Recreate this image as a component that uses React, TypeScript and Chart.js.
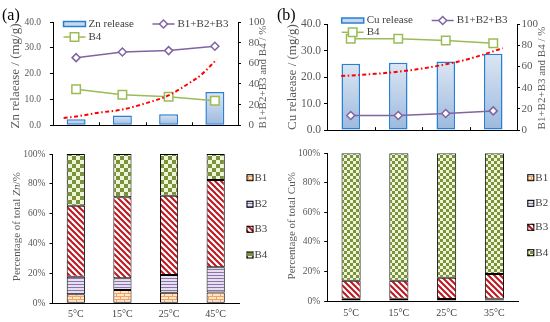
import React, { useEffect, useRef } from 'react';
import { Chart, registerables } from 'chart.js';

Chart.register(...registerables);

const SERIF = "'Liberation Serif', 'Times New Roman', serif";
Chart.defaults.font.family = SERIF;

// ---------- data ----------
const znCategories = ['5°C', '15°C', '25°C', '45°C'];
const cuCategories = ['5°C', '15°C', '25°C', '35°C'];

const znRelease = [2.3, 3.8, 4.3, 12.9];
const znB123 = [65.5, 71.0, 72.3, 76.5];
const znB4 = [35.0, 29.5, 27.7, 23.7];
const znTrendX = [-0.27, 0, 0.5, 1, 1.5, 2, 2.4, 2.7, 3.04];
const znTrendY = [2.8, 3.4, 4.9, 6.1, 8.5, 11.6, 15.8, 19.5, 25.5];

const cuRelease = [25.0, 25.4, 25.9, 28.8];
const cuB123 = [13.8, 13.8, 15.6, 18.1];
const cuB4 = [86.2, 86.2, 84.4, 81.9];
const cuTrendX = [-0.2, 0, 0.5, 1, 1.5, 2, 2.5, 3, 3.2];
const cuTrendY = [20.4, 20.6, 21.2, 22.0, 23.2, 24.8, 26.9, 29.7, 30.9];

const znFracB1 = [6.0, 8.9, 7.1, 7.3];
const znFracB2 = [11.8, 7.8, 11.9, 16.8];
const znFracB3 = [47.6, 54.3, 53.1, 58.5];
const znFracB4 = [34.6, 29.0, 27.9, 17.4];

const cuFracB1 = [0.3, 0.3, 0.3, 1.2];
const cuFracB2 = [1.2, 1.2, 1.0, 0.4];
const cuFracB3 = [12.2, 12.2, 14.5, 16.7];
const cuFracB4 = [86.3, 86.3, 84.2, 81.7];

const fracLabels = ['B1', 'B2', 'B3', 'B4'];
const leftTicksTop = { min: 0, max: 40, step: 10 };
const rightTicksTop = { min: 0, max: 100, step: 20 };

// ---------- styles ----------
const PURPLE = '#8064A2';
const GREEN = '#9BBB59';
const BLUE = '#2A7FD4';
const RED = '#FF0000';
const TICK = '#595959';
const TEXT = '#404040';

function makePattern(kind: string, cell = 4): CanvasPattern | string {
  const c = document.createElement('canvas');
  const g = c.getContext('2d');
  if (!g) return '#ccc';
  if (kind === 'brick') {
    c.width = 8; c.height = 6;
    g.fillStyle = '#FDE6CF'; g.fillRect(0, 0, 8, 6);
    g.fillStyle = '#F3A35E';
    g.fillRect(0, 0, 8, 1); g.fillRect(0, 3, 8, 1);
    g.fillRect(0, 0, 1, 3); g.fillRect(4, 3, 1, 3);
  } else if (kind === 'hline') {
    c.width = 4; c.height = 3;
    g.fillStyle = '#E6E0EE'; g.fillRect(0, 0, 4, 3);
    g.fillStyle = '#8A73AE'; g.fillRect(0, 0, 4, 1);
  } else if (kind === 'diag') {
    c.width = 6; c.height = 6;
    g.fillStyle = '#FFFFFF'; g.fillRect(0, 0, 6, 6);
    g.strokeStyle = '#C0141C'; g.lineWidth = 2;
    for (const k of [-6, 0, 6]) {
      g.beginPath(); g.moveTo(k - 1, -1); g.lineTo(k + 7, 7); g.stroke();
    }
  } else {
    c.width = cell * 2; c.height = cell * 2;
    g.fillStyle = '#F1F4D6'; g.fillRect(0, 0, cell * 2, cell * 2);
    g.fillStyle = '#77933C';
    g.fillRect(0, 0, cell, cell); g.fillRect(cell, cell, cell, cell);
  }
  return g.createPattern(c, 'repeat') || '#ccc';
}

function drawMarker(ctx: CanvasRenderingContext2D, style: string, x: number, y: number, r: number, color: string) {
  ctx.beginPath();
  if (style === 'rectRot') {
    ctx.moveTo(x, y - r); ctx.lineTo(x + r, y); ctx.lineTo(x, y + r); ctx.lineTo(x - r, y); ctx.closePath();
  } else {
    const s = r * Math.SQRT1_2;
    ctx.rect(x - s, y - s, 2 * s, 2 * s);
  }
  ctx.fillStyle = '#fff'; ctx.fill();
  ctx.strokeStyle = color; ctx.lineWidth = 1.5; ctx.stroke();
}

function drawRotated(ctx: CanvasRenderingContext2D, parts: { t: string; i?: boolean }[], cx: number, cy: number, size: number, color: string) {
  ctx.save();
  ctx.translate(cx, cy);
  ctx.rotate(-Math.PI / 2);
  ctx.fillStyle = color;
  ctx.textBaseline = 'middle';
  ctx.textAlign = 'left';
  const widths = parts.map((p) => { ctx.font = `${p.i ? 'italic ' : ''}${size}px ${SERIF}`; return ctx.measureText(p.t).width; });
  let x = -widths.reduce((a, b) => a + b, 0) / 2;
  parts.forEach((p, k) => {
    ctx.font = `${p.i ? 'italic ' : ''}${size}px ${SERIF}`;
    ctx.fillText(p.t, x, 0);
    x += widths[k];
  });
  ctx.restore();
}

const barGradient = (c: any) => {
  const chart = c.chart;
  if (!chart.chartArea || c.raw == null) return '#C6D8EE';
  const ys = chart.scales.y;
  const top = ys.getPixelForValue(c.raw);
  const bottom = ys.getPixelForValue(0);
  const g = chart.ctx.createLinearGradient(0, top, 0, bottom);
  g.addColorStop(0, '#DCE6F3');
  g.addColorStop(1, '#9BB9DE');
  return g;
};

interface TopGeo {
  padTop: number; yW: number; y1W: number; xH: number;
  leftFont: number; rightFont: number; leftPad: number; rightPad: number;
  leftTitleX: number; leftTitleY: number; rightTitleX: number; rightTitleY: number;
  row1Y: number; row2Y: number; col1X: number; col2X: number; barPct: number;
}

function buildTop(p: {
  cats: string[]; release: number[]; b123: number[]; b4: number[]; tx: number[]; ty: number[];
  releaseLabel: string; panel: string; leftTitle: string; geo: TopGeo;
}) {
  const g = p.geo;
  const decor = {
    id: 'decorTop',
    afterDraw(chart: any) {
      const ctx: CanvasRenderingContext2D = chart.ctx;
      const area = chart.chartArea;
      const xs = chart.scales.x;
      ctx.save();
      ctx.strokeStyle = '#000'; ctx.lineWidth = 1;
      for (let i = 1; i < p.cats.length; i++) {
        const px = Math.round((xs.getPixelForValue(i - 1) + xs.getPixelForValue(i)) / 2) + 0.5;
        ctx.beginPath(); ctx.moveTo(px, area.bottom); ctx.lineTo(px, area.bottom - 3); ctx.stroke();
      }
      ctx.fillStyle = '#000'; ctx.font = `16px ${SERIF}`; ctx.textBaseline = 'middle'; ctx.textAlign = 'left';
      ctx.fillText(p.panel, 2, 15.5);
      drawRotated(ctx, [{ t: p.leftTitle }], g.leftTitleX, g.leftTitleY, 13, TICK);
      drawRotated(ctx, [{ t: 'B1+B2+B3 and B4 / %' }], g.rightTitleX, g.rightTitleY, 11, TICK);
      // legend
      ctx.font = `11px ${SERIF}`; ctx.fillStyle = TEXT; ctx.textBaseline = 'middle';
      const iconW = 22;
      ctx.fillStyle = '#C6D8EE';
      ctx.fillRect(g.col1X, g.row1Y - 2.5, iconW, 5);
      ctx.strokeStyle = BLUE; ctx.lineWidth = 1.5;
      ctx.strokeRect(g.col1X, g.row1Y - 2.5, iconW, 5);
      ctx.fillStyle = TEXT;
      ctx.fillText(p.releaseLabel, g.col1X + iconW + 3, g.row1Y);
      ctx.strokeStyle = PURPLE; ctx.lineWidth = 1.5;
      ctx.beginPath(); ctx.moveTo(g.col2X, g.row1Y); ctx.lineTo(g.col2X + iconW, g.row1Y); ctx.stroke();
      drawMarker(ctx, 'rectRot', g.col2X + iconW / 2, g.row1Y, 4, PURPLE);
      ctx.fillStyle = TEXT;
      ctx.fillText('B1+B2+B3', g.col2X + iconW + 3, g.row1Y);
      ctx.strokeStyle = GREEN; ctx.lineWidth = 1.5;
      ctx.beginPath(); ctx.moveTo(g.col1X, g.row2Y); ctx.lineTo(g.col1X + iconW, g.row2Y); ctx.stroke();
      drawMarker(ctx, 'rect', g.col1X + iconW / 2, g.row2Y, 6, GREEN);
      ctx.fillStyle = TEXT;
      ctx.fillText('B4', g.col1X + iconW + 3, g.row2Y);
      ctx.restore();
    },
  };
  const yGrid = { display: true, drawOnChartArea: false, drawTicks: true, tickLength: 3, color: '#000' };
  return {
    type: 'bar',
    data: {
      labels: p.cats,
      datasets: [
        { type: 'line', label: 'B1+B2+B3', data: p.b123, xAxisID: 'x', yAxisID: 'y1', borderColor: PURPLE, borderWidth: 1.5,
          pointStyle: 'rectRot', pointRadius: 4, pointBackgroundColor: '#fff', pointBorderColor: PURPLE, pointBorderWidth: 1.5, order: 1 },
        { type: 'line', label: 'B4', data: p.b4, xAxisID: 'x', yAxisID: 'y1', borderColor: GREEN, borderWidth: 1.5,
          pointStyle: 'rect', pointRadius: 6, pointBackgroundColor: '#fff', pointBorderColor: GREEN, pointBorderWidth: 1.5, order: 1 },
        { type: 'line', label: 'trend', data: p.tx.map((x, i) => ({ x, y: p.ty[i] })), xAxisID: 'x2', yAxisID: 'y',
          borderColor: RED, borderWidth: 2, borderDash: [4, 2.5, 1.5, 2.5], pointRadius: 0, tension: 0.4,
          cubicInterpolationMode: 'monotone', order: 0, clip: false },
        { type: 'bar', label: p.releaseLabel, data: p.release, xAxisID: 'x', yAxisID: 'y', backgroundColor: barGradient,
          borderColor: BLUE, borderWidth: 1.5, borderSkipped: false, grouped: false,
          barPercentage: g.barPct, categoryPercentage: 1, order: 5 },
      ],
    },
    options: {
      animation: false, responsive: false, events: [],
      layout: { padding: { top: g.padTop, left: 0, right: 0, bottom: 0 } },
      plugins: { legend: { display: false }, tooltip: { enabled: false } },
      scales: {
        x: { type: 'category', offset: true, grid: { display: false, drawTicks: false }, border: { display: true, color: '#000', width: 1 },
          ticks: { display: false }, afterFit: (s: any) => { s.height = g.xH; } },
        x2: { type: 'linear', position: 'bottom', offset: false, min: -0.5, max: 3.5, bounds: 'ticks',
          grid: { display: false, drawTicks: false, offset: false }, border: { display: false },
          ticks: { display: false }, afterFit: (s: any) => { s.height = 0; } },
        y: { type: 'linear', position: 'left', min: leftTicksTop.min, max: leftTicksTop.max,
          ticks: { stepSize: leftTicksTop.step, callback: (v: any) => Number(v).toFixed(1), font: { size: g.leftFont }, color: TICK, padding: g.leftPad },
          grid: yGrid, border: { color: '#000', width: 1 }, afterFit: (s: any) => { s.width = g.yW; } },
        y1: { type: 'linear', position: 'right', min: rightTicksTop.min, max: rightTicksTop.max,
          ticks: { stepSize: rightTicksTop.step, font: { size: g.rightFont }, color: TICK, padding: g.rightPad },
          grid: yGrid, border: { color: '#000', width: 1 }, afterFit: (s: any) => { s.width = g.y1W; } },
      },
    },
    plugins: [decor],
  };
}

interface BotGeo {
  padTop: number; padRight: number; yW: number; xH: number; xPad: number; barPct: number; cell: number;
  titleX: number; titleY: number; legX: number; legY: number[];
}

function buildBottom(p: { cats: string[]; series: number[][]; title: { t: string; i?: boolean }[]; geo: BotGeo }) {
  const g = p.geo;
  const fills = [makePattern('brick'), makePattern('hline'), makePattern('diag'), makePattern('check', g.cell)];
  const decor = {
    id: 'decorBottom',
    afterDraw(chart: any) {
      const ctx: CanvasRenderingContext2D = chart.ctx;
      ctx.save();
      drawRotated(ctx, p.title, g.titleX, g.titleY, 11, TICK);
      ctx.font = `11px ${SERIF}`; ctx.textBaseline = 'middle'; ctx.textAlign = 'left';
      fracLabels.forEach((lab, i) => {
        const y = g.legY[i];
        ctx.fillStyle = fills[i] as any;
        ctx.fillRect(g.legX, y - 3.5, 7, 7);
        ctx.strokeStyle = '#000'; ctx.lineWidth = 1;
        ctx.strokeRect(g.legX + 0.5, y - 3, 6, 6);
        ctx.fillStyle = TEXT;
        ctx.fillText(lab, g.legX + 8, y);
      });
      ctx.restore();
    },
  };
  return {
    type: 'bar',
    data: {
      labels: p.cats,
      datasets: p.series.map((d, i) => ({
        label: fracLabels[i], data: d, backgroundColor: fills[i], borderColor: '#000', borderWidth: 1,
        borderSkipped: false, barPercentage: g.barPct, categoryPercentage: 1,
      })),
    },
    options: {
      animation: false, responsive: false, events: [],
      layout: { padding: { top: g.padTop, right: g.padRight, left: 0, bottom: 0 } },
      plugins: { legend: { display: false }, tooltip: { enabled: false } },
      scales: {
        x: { stacked: true, offset: true, grid: { display: false, drawTicks: false }, border: { display: true, color: '#000', width: 1 },
          ticks: { font: { size: 10 }, color: TEXT, padding: g.xPad, maxRotation: 0 }, afterFit: (s: any) => { s.height = g.xH; } },
        y: { stacked: true, min: 0, max: 100,
          ticks: { stepSize: 20, callback: (v: any) => `${v}%`, font: { size: 9.5 }, color: TICK, padding: 4 },
          grid: { display: true, drawOnChartArea: false, drawTicks: true, tickLength: 3, color: '#000' },
          border: { color: '#000', width: 1 }, afterFit: (s: any) => { s.width = g.yW; } },
      },
    },
    plugins: [decor],
  };
}

function ChartBox({ make, left, top, width, height }: { make: () => any; left: number; top: number; width: number; height: number }) {
  const ref = useRef<HTMLCanvasElement | null>(null);
  useEffect(() => {
    if (!ref.current) return;
    const chart = new Chart(ref.current, make());
    return () => chart.destroy();
  }, []);
  return <canvas ref={ref} width={width} height={height} style={{ position: 'absolute', left, top, width, height }} />;
}

export default function App() {
  const makeTopA = () => buildTop({
    cats: znCategories, release: znRelease, b123: znB123, b4: znB4, tx: znTrendX, ty: znTrendY,
    releaseLabel: 'Zn release', panel: '(a)', leftTitle: 'Zn relaease / (mg/g)',
    geo: { padTop: 22, yW: 53, y1W: 37, xH: 8, leftFont: 9.5, rightFont: 11, leftPad: 9, rightPad: 7.5,
      leftTitleX: 16, leftTitleY: 76, rightTitleX: 263, rightTitleY: 77, row1Y: 24, row2Y: 37, col1X: 63.5, col2X: 152.5, barPct: 0.41 },
  });
  const makeTopB = () => buildTop({
    cats: cuCategories, release: cuRelease, b123: cuB123, b4: cuB4, tx: cuTrendX, ty: cuTrendY,
    releaseLabel: 'Cu release', panel: '(b)', leftTitle: 'Cu relaease / (mg/g)',
    geo: { padTop: 24, yW: 52, y1W: 33, xH: 7, leftFont: 11.5, rightFont: 11, leftPad: 3, rightPad: 1.5,
      leftTitleX: 18, leftTitleY: 77, rightTitleX: 267, rightTitleY: 78, row1Y: 20.5, row2Y: 32.3, col1X: 66.7, col2X: 156.7, barPct: 0.39 },
  });
  const makeBotA = () => buildBottom({
    cats: znCategories, series: [znFracB1, znFracB2, znFracB3, znFracB4],
    title: [{ t: 'Percentage of total ' }, { t: 'Zn', i: true }, { t: '/%' }],
    geo: { padTop: 14, padRight: 36, yW: 52.5, xH: 18.7, xPad: 4.7, barPct: 0.39, cell: 4,
      titleX: 17, titleY: 86.7, legX: 246.5, legY: [37.7, 64.3, 89.3, 115] },
  });
  const makeBotB = () => buildBottom({
    cats: cuCategories, series: [cuFracB1, cuFracB2, cuFracB3, cuFracB4],
    title: [{ t: 'Percentage of total Cu%' }],
    geo: { padTop: 13.3, padRight: 31.7, yW: 52.2, xH: 21, xPad: 6.3, barPct: 0.4, cell: 3,
      titleX: 16.7, titleY: 85.8, legX: 252.3, legY: [37.7, 63.3, 87.3, 112.7] },
  });
  return (
    <div style={{ position: 'absolute', left: 0, top: 0, width: 550, height: 322, background: '#fff', overflow: 'hidden' }}>
      <ChartBox make={makeTopA} left={0} top={0} width={275} height={140} />
      <ChartBox make={makeTopB} left={275} top={0} width={275} height={140} />
      <ChartBox make={makeBotA} left={0} top={140} width={275} height={182} />
      <ChartBox make={makeBotB} left={275} top={140} width={275} height={182} />
    </div>
  );
}
